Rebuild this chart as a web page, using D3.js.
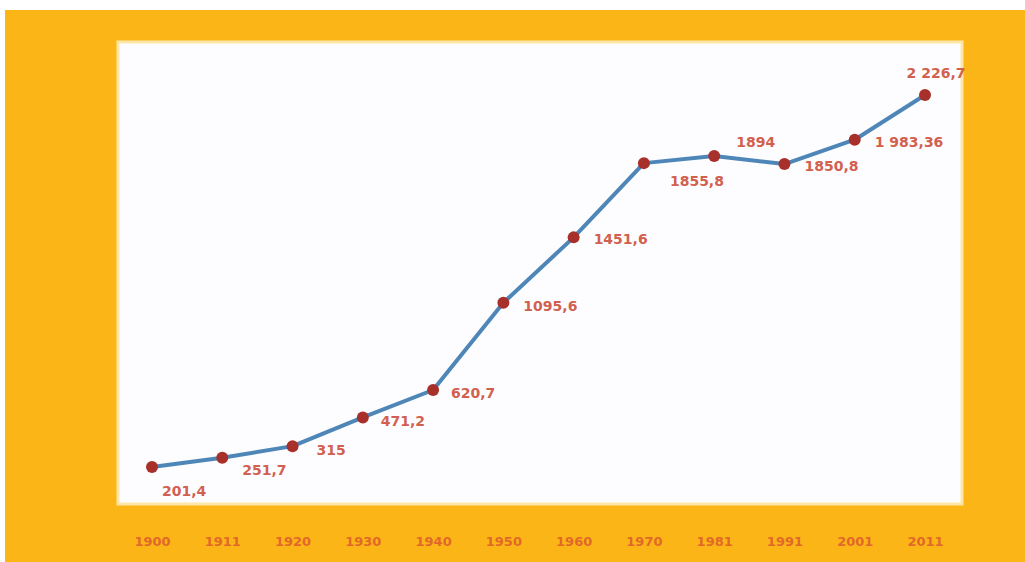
<!DOCTYPE html>
<html>
<head>
<meta charset="utf-8">
<script src="https://cdn.jsdelivr.net/npm/d3@7/dist/d3.min.js"></script>
<style>
  html, body { margin: 0; padding: 0; background: #ffffff; }
  svg { display: block; }
</style>
</head>
<body>
<svg id="chart" width="1025" height="562"></svg>
<script>
// Census years and population values (thousands)
const years = ["1900", "1911", "1920", "1930", "1940", "1950", "1960", "1970", "1981", "1991", "2001", "2011"];
const values = [201.4, 251.7, 315, 471.2, 620.7, 1095.6, 1451.6, 1855.8, 1894, 1850.8, 1983.36, 2226.7];
const valueLabels = ["201,4", "251,7", "315", "471,2", "620,7", "1095,6", "1451,6", "1855,8", "1894", "1850,8", "1 983,36", "2 226,7"];
// label placement relative to each point: [dx, dy, anchor]
const labelPlacement = [
  [10, 29, "start"], [20, 17, "start"], [24, 9, "start"], [18, 9, "start"],
  [18, 8, "start"], [20, 8, "start"], [20, 7, "start"], [26, 23, "start"],
  [22, -9, "start"], [20, 7, "start"], [20, 7, "start"], [11, -17, "middle"]
];

const svg = d3.select("#chart");
const W = 1025, H = 562;

// orange frame
svg.append("rect").attr("x", 5).attr("y", 10).attr("width", W - 5).attr("height", H - 10)
  .attr("fill", "#FBB516");

// white plot panel
const panel = { x0: 118, y0: 42, x1: 962, y1: 504 };
svg.append("rect")
  .attr("x", panel.x0).attr("y", panel.y0)
  .attr("width", panel.x1 - panel.x0).attr("height", panel.y1 - panel.y0)
  .attr("fill", "#FDFDFF")
  .attr("stroke", "#FDE7A8").attr("stroke-width", 3);

const x = d3.scalePoint().domain(years).range([152, 925]);
const y = d3.scaleLinear().domain([0, 2226.7]).range([504, 95]);

// year axis below the panel
const xAxis = d3.axisBottom(x).tickSize(0).tickPadding(0);
const gx = svg.append("g").attr("transform", "translate(0,537)").call(xAxis);
gx.select(".domain").remove();
gx.selectAll("text")
  .attr("fill", "#E2682A")
  .attr("font-family", "DejaVu Sans, sans-serif")
  .attr("font-size", 13)
  .attr("font-weight", "bold");

const data = years.map((yr, i) => ({ yr, v: values[i], label: valueLabels[i], pl: labelPlacement[i] }));

// connecting line
svg.append("path")
  .datum(data)
  .attr("fill", "none")
  .attr("stroke", "#4F86B8")
  .attr("stroke-width", 4)
  .attr("stroke-linejoin", "round")
  .attr("d", d3.line().x(d => x(d.yr)).y(d => y(d.v)));

// points
svg.append("g").selectAll("circle")
  .data(data).join("circle")
  .attr("cx", d => x(d.yr)).attr("cy", d => y(d.v))
  .attr("r", 6)
  .attr("fill", "#A8302A");

// value labels
svg.append("g").selectAll("text")
  .data(data).join("text")
  .attr("x", d => x(d.yr) + d.pl[0])
  .attr("y", d => y(d.v) + d.pl[1])
  .attr("text-anchor", d => d.pl[2])
  .attr("fill", "#D2604E")
  .attr("font-family", "DejaVu Sans, sans-serif")
  .attr("font-size", 14)
  .attr("font-weight", "bold")
  .text(d => d.label);
</script>
</body>
</html>
